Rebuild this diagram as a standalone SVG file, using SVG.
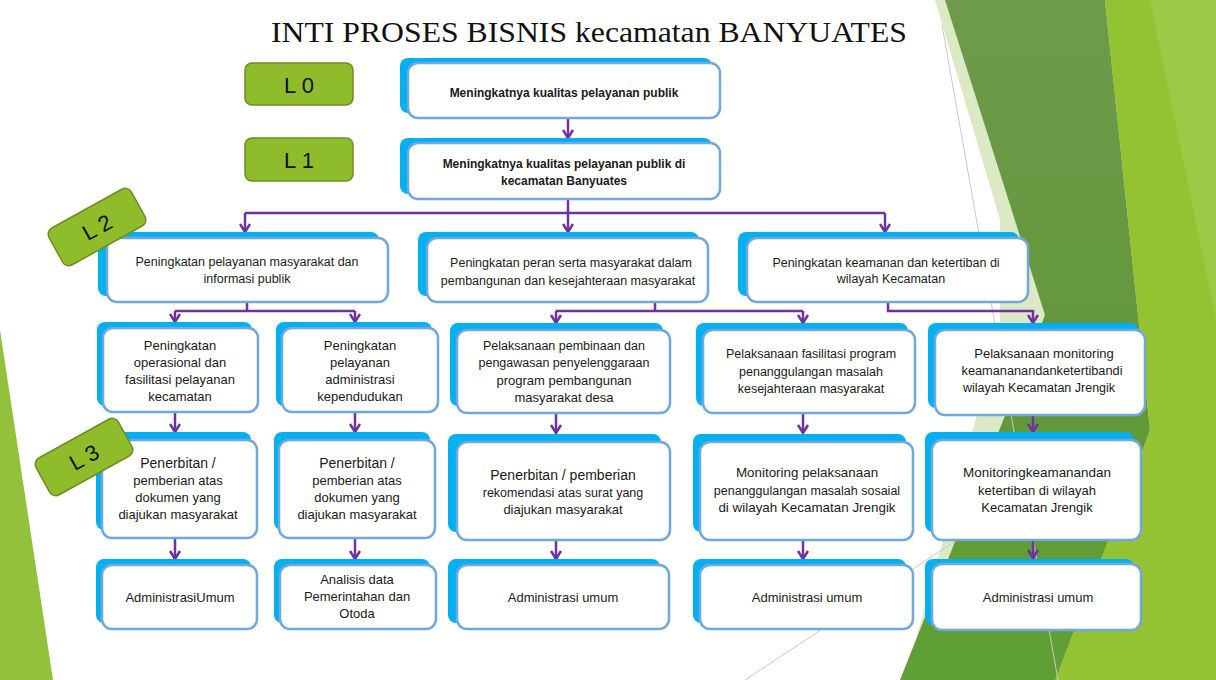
<svg xmlns="http://www.w3.org/2000/svg" width="1216" height="680" viewBox="0 0 1216 680">
<defs>
<style>
.bk{fill:#00b0f0}
.bx{fill:#fff;stroke:#72a7dc;stroke-width:2.5}
.lv{fill:#8fbc2b;stroke:#6b8e23;stroke-width:1.5}
.lt{font-family:"Liberation Sans",Arial,sans-serif;font-size:22px;fill:#111;text-anchor:middle}
.t{font-family:"Liberation Sans",Arial,sans-serif;fill:#1a1a1a;text-anchor:middle}
.b{font-weight:bold;font-size:12px}
.s2{font-size:12.5px}
.s3{font-size:13px}
.s35{font-size:13.4px}
.s4{font-size:14px}
.cn{fill:none;stroke:#7030a0;stroke-width:2.5}
</style>
<linearGradient id="gd" x1="0" y1="0" x2="0" y2="1">
<stop offset="0" stop-color="#6e9b4b"/>
<stop offset="0.55" stop-color="#62973b"/>
<stop offset="1" stop-color="#5f9f35"/>
</linearGradient>
<marker id="ah" viewBox="0 0 12 12" refX="10" refY="6" markerWidth="12" markerHeight="12" markerUnits="userSpaceOnUse" orient="auto">
<path d="M2,1 L10,6 L2,11" fill="none" stroke="#7030a0" stroke-width="2.5"/>
</marker>
</defs>
<rect width="1216" height="680" fill="#fff"/>
<g id="background">
<polygon points="935,0 1216,0 1216,680 905,680 1000,330 1000,220" fill="#dce9c5"/>
<polygon points="945,0 1105,0 1150,430 1060,680 900,680 1045,315" fill="url(#gd)"/>
<polygon points="1105,0 1216,0 1216,680 1055,680 1150,430" fill="#93c232"/>
<polygon points="1150,0 1216,0 1216,320" fill="#a5cd55" opacity="0.6"/>
<polygon points="0,330 53,680 0,680" fill="#93c13b"/>
<line x1="942" y1="25" x2="1058" y2="680" stroke="#c8c8c8" stroke-width="1"/>
<line x1="745" y1="680" x2="1010" y2="505" stroke="#c8c8c8" stroke-width="1"/>
</g>
<text x="589" y="42" font-family="'Liberation Serif','Times New Roman',serif" font-size="30" fill="#111" text-anchor="middle" textLength="636" lengthAdjust="spacingAndGlyphs">INTI PROSES BISNIS kecamatan BANYUATES</text>
<g id="connectors">
<path class="cn" d="M568,118 V138" marker-end="url(#ah)"/>
<path class="cn" d="M568,199 V213 M245,213 H885"/>
<path class="cn" d="M245,213 V232" marker-end="url(#ah)"/>
<path class="cn" d="M568,213 V232" marker-end="url(#ah)"/>
<path class="cn" d="M885,213 V232" marker-end="url(#ah)"/>
<path class="cn" d="M247,302 V311 M175,311 H355"/>
<path class="cn" d="M175,311 V322" marker-end="url(#ah)"/>
<path class="cn" d="M355,311 V322" marker-end="url(#ah)"/>
<path class="cn" d="M655,302 V311 M556,311 H803"/>
<path class="cn" d="M556,311 V323" marker-end="url(#ah)"/>
<path class="cn" d="M803,311 V323" marker-end="url(#ah)"/>
<path class="cn" d="M888,302 V311 H1033 V323" marker-end="url(#ah)"/>
<path class="cn" d="M175,412 V432" marker-end="url(#ah)"/>
<path class="cn" d="M355,412 V432" marker-end="url(#ah)"/>
<path class="cn" d="M556,413 V433" marker-end="url(#ah)"/>
<path class="cn" d="M803,413 V433" marker-end="url(#ah)"/>
<path class="cn" d="M1033,415 V432" marker-end="url(#ah)"/>
<path class="cn" d="M175,538 V559" marker-end="url(#ah)"/>
<path class="cn" d="M355,538 V559" marker-end="url(#ah)"/>
<path class="cn" d="M556,540 V559" marker-end="url(#ah)"/>
<path class="cn" d="M803,540 V559" marker-end="url(#ah)"/>
<path class="cn" d="M1033,540 V558" marker-end="url(#ah)"/>
</g>
<g id="n-l0"><rect class="bk" x="400" y="58" width="312" height="55" rx="8"/><rect class="bx" x="408" y="63" width="312" height="55" rx="10"/>
<text class="t b" x="564" y="97">Meningkatnya kualitas pelayanan publik</text></g>
<g id="n-l1"><rect class="bk" x="400" y="138" width="312" height="56" rx="8"/><rect class="bx" x="408" y="143" width="312" height="56" rx="10"/>
<text class="t b" x="564" y="168">Meningkatnya kualitas pelayanan publik di</text><text class="t b" x="564" y="185">kecamatan Banyuates</text></g>
<g id="n-a"><rect class="bk" x="98" y="232" width="281" height="64" rx="8"/><rect class="bx" x="107" y="238" width="281" height="64" rx="10"/>
<text class="t s2" x="247" y="266">Peningkatan pelayanan masyarakat dan</text><text class="t s2" x="247" y="283">informasi publik</text></g>
<g id="n-b"><rect class="bk" x="418" y="232" width="281" height="64" rx="8"/><rect class="bx" x="427" y="238" width="281" height="64" rx="10"/>
<text class="t s2" x="571" y="267">Peningkatan peran serta masyarakat dalam</text><text class="t s2" x="568" y="285">pembangunan dan kesejahteraan masyarakat</text></g>
<g id="n-c"><rect class="bk" x="738" y="232" width="281" height="64" rx="8"/><rect class="bx" x="747" y="238" width="281" height="64" rx="10"/>
<text class="t s2" x="886" y="267">Peningkatan keamanan dan ketertiban di</text><text class="t s2" x="891" y="283">wilayah Kecamatan</text></g>
<g id="n-d"><rect class="bk" x="97" y="322" width="155" height="84" rx="8"/><rect class="bx" x="103" y="328" width="155" height="84" rx="10"/>
<text class="t s3" x="180" y="350">Peningkatan</text><text class="t s3" x="180" y="367">operasional dan</text><text class="t s3" x="180" y="384">fasilitasi pelayanan</text><text class="t s3" x="180" y="401">kecamatan</text></g>
<g id="n-e"><rect class="bk" x="276" y="322" width="156" height="84" rx="8"/><rect class="bx" x="282" y="328" width="156" height="84" rx="10"/>
<text class="t s3" x="360" y="350">Peningkatan</text><text class="t s3" x="360" y="367">pelayanan</text><text class="t s3" x="360" y="384">administrasi</text><text class="t s3" x="360" y="401">kependudukan</text></g>
<g id="n-f"><rect class="bk" x="450" y="323" width="213" height="83" rx="8"/><rect class="bx" x="457" y="330" width="213" height="83" rx="10"/>
<text class="t s2" x="564" y="350">Pelaksanaan pembinaan dan</text><text class="t s2" x="564" y="367">pengawasan penyelenggaraan</text><text class="t s3" x="564" y="385">program pembangunan</text><text class="t s3" x="564" y="402">masyarakat desa</text></g>
<g id="n-g"><rect class="bk" x="696" y="323" width="212" height="83" rx="8"/><rect class="bx" x="703" y="330" width="212" height="83" rx="10"/>
<text class="t s2" x="811" y="358">Pelaksanaan fasilitasi program</text><text class="t s2" x="811" y="376">penanggulangan masalah</text><text class="t s2" x="811" y="393">kesejahteraan masyarakat</text></g>
<g id="n-h"><rect class="bk" x="928" y="323" width="210" height="85" rx="8"/><rect class="bx" x="935" y="330" width="210" height="85" rx="10"/>
<text class="t s3" x="1044" y="358">Pelaksanaan monitoring</text><text class="t s2" x="1042" y="375" textLength="161" lengthAdjust="spacingAndGlyphs">keamananandanketertibandi</text><text class="t s2" x="1039" y="392">wilayah Kecamatan Jrengik</text></g>
<g id="n-i"><rect class="bk" x="96" y="432" width="155" height="98" rx="8"/><rect class="bx" x="102" y="440" width="155" height="98" rx="10"/>
<text class="t s4" x="178" y="468">Penerbitan /</text><text class="t s3" x="178" y="485">pemberian atas</text><text class="t s3" x="178" y="502">dokumen yang</text><text class="t s3" x="178" y="519">diajukan masyarakat</text></g>
<g id="n-j"><rect class="bk" x="274" y="432" width="156" height="98" rx="8"/><rect class="bx" x="279" y="440" width="156" height="98" rx="10"/>
<text class="t s4" x="357" y="468">Penerbitan /</text><text class="t s3" x="357" y="485">pemberian atas</text><text class="t s3" x="357" y="502">dokumen yang</text><text class="t s3" x="357" y="519">diajukan masyarakat</text></g>
<g id="n-k"><rect class="bk" x="448" y="434" width="213" height="98" rx="8"/><rect class="bx" x="457" y="442" width="213" height="98" rx="10"/>
<text class="t s4" x="563" y="480">Penerbitan / pemberian</text><text class="t s2" x="563" y="497">rekomendasi atas surat yang</text><text class="t s3" x="563" y="514">diajukan masyarakat</text></g>
<g id="n-l"><rect class="bk" x="693" y="434" width="213" height="98" rx="8"/><rect class="bx" x="700" y="442" width="213" height="98" rx="10"/>
<text class="t s35" x="807" y="477">Monitoring pelaksanaan</text><text class="t s2" x="807" y="495">penanggulangan masalah sosaial</text><text class="t s35" x="807" y="512">di wilayah Kecamatan Jrengik</text></g>
<g id="n-m"><rect class="bk" x="925" y="432" width="209" height="100" rx="8"/><rect class="bx" x="932" y="440" width="209" height="100" rx="10"/>
<text class="t s3" x="1037" y="477" textLength="148" lengthAdjust="spacingAndGlyphs">Monitoringkeamanandan</text><text class="t s3" x="1037" y="495">ketertiban di wilayah</text><text class="t s3" x="1037" y="512">Kecamatan Jrengik</text></g>
<g id="n-n"><rect class="bk" x="96" y="559" width="155" height="64" rx="8"/><rect class="bx" x="102" y="565" width="155" height="64" rx="10"/>
<text class="t s3" x="180" y="602">AdministrasiUmum</text></g>
<g id="n-o"><rect class="bk" x="274" y="559" width="156" height="64" rx="8"/><rect class="bx" x="280" y="565" width="156" height="64" rx="10"/>
<text class="t s3" x="357" y="584">Analisis data</text><text class="t s3" x="357" y="601">Pemerintahan dan</text><text class="t s3" x="357" y="618">Otoda</text></g>
<g id="n-p"><rect class="bk" x="448" y="559" width="212" height="64" rx="8"/><rect class="bx" x="457" y="565" width="212" height="64" rx="10"/>
<text class="t s3" x="563" y="602">Administrasi umum</text></g>
<g id="n-q"><rect class="bk" x="693" y="559" width="213" height="64" rx="8"/><rect class="bx" x="700" y="565" width="213" height="64" rx="10"/>
<text class="t s3" x="807" y="602">Administrasi umum</text></g>
<g id="n-r"><rect class="bk" x="925" y="559" width="209" height="66" rx="8"/><rect class="bx" x="932" y="564" width="209" height="66" rx="10"/>
<text class="t s3" x="1038" y="602">Administrasi umum</text></g>
<g id="levels">
<g id="lvl0"><rect class="lv" x="245" y="63" width="108" height="42" rx="7"/><text class="lt" x="299" y="93">L 0</text></g>
<g id="lvl1"><rect class="lv" x="245" y="138" width="108" height="43" rx="7"/><text class="lt" x="299" y="168">L 1</text></g>
<g id="lvl2" transform="translate(97,227) rotate(-29)"><rect class="lv" x="-47" y="-21" width="94" height="42" rx="7"/><text class="lt" x="0" y="8">L 2</text></g>
<g id="lvl3" transform="translate(84,457) rotate(-29)"><rect class="lv" x="-47" y="-21" width="94" height="42" rx="7"/><text class="lt" x="0" y="8">L 3</text></g>
</g>
</svg>
